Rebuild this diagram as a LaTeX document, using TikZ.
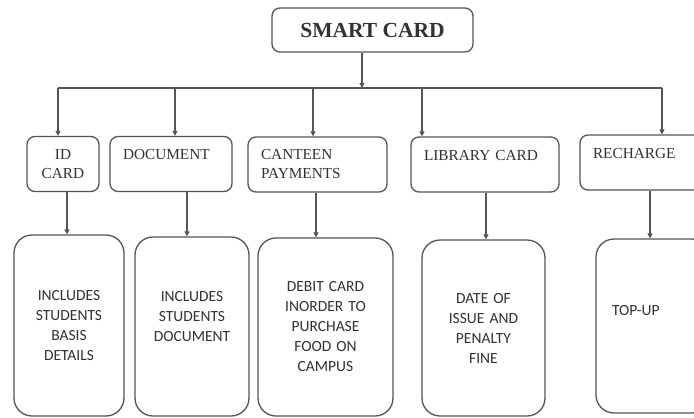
\documentclass[tikz,border=0pt]{standalone}
\usepackage{fontspec}
\setmainfont{Liberation Serif}
\newfontfamily\calib{Carlito}
\usetikzlibrary{arrows.meta}
\definecolor{ln}{RGB}{85,85,85}
\definecolor{tx}{RGB}{50,50,50}
\begin{document}
\begin{tikzpicture}[x=1pt,y=-1pt,
  topbox/.style={draw=ln, line width=1.3pt, rounded corners=8pt, text=tx,
    font=\fontsize{21.5}{25}\selectfont\bfseries, minimum width=201pt, minimum height=44pt, inner sep=0pt},
  lvone/.style={draw=ln, line width=1.3pt, rounded corners=8pt, text=tx,
    font=\fontsize{15.3}{19}\selectfont, align=left, inner xsep=13pt, inner ysep=0pt, minimum height=55pt},
  lvtwo/.style={draw=ln, line width=1.3pt, rounded corners=18pt, text=tx,
    font=\calib\fontsize{15.5}{20}\selectfont, align=center, inner sep=0pt},
  arr/.style={draw=ln, line width=1.3pt, -{Triangle[length=5pt,width=5pt]}},
  ln/.style={draw=ln, line width=1.3pt}]
\clip (0,0) rectangle (694,418);
\fill[white] (0,0) rectangle (694,418);
\useasboundingbox (0,0) rectangle (694,418);

\node[topbox] (smart) at (372.5,30) {SMART CARD};

\node[lvone, text width=46pt, align=center] (id) at (63,164) {ID\\CARD};
\node[lvone, text width=96pt] (doc) at (171,164) {DOCUMENT\\ \mbox{}};
\node[lvone, text width=113pt] (cant) at (317.5,164.5) {CANTEEN\\PAYMENTS};
\node[lvone, text width=122pt] (lib) at (485,164.5) {LIBRARY CARD\\ \mbox{}};
\node[lvone, text width=104pt] (rech) at (645,162.5) {RECHARGE\\ \mbox{}};

\node[lvtwo, minimum width=110pt, minimum height=181pt, text width=100pt] (idd) at (69,325.5) {INCLUDES\\STUDENTS\\BASIS\\DETAILS};
\node[lvtwo, minimum width=114pt, minimum height=179pt, text width=104pt] (docd) at (192,326.5) {INCLUDES\\STUDENTS\\DOCUMENT\\ \mbox{}};
\node[lvtwo, minimum width=135pt, minimum height=178pt, text width=125pt] (cantd) at (325.5,327) {DEBIT CARD\\INORDER TO\\PURCHASE\\FOOD ON\\CAMPUS};
\node[lvtwo, minimum width=123pt, minimum height=176pt, text width=113pt] (libd) at (483.5,328) {DATE OF\\ISSUE AND\\PENALTY\\FINE};
\node[lvtwo, minimum width=114pt, minimum height=174pt, text width=82pt, inner xsep=16pt, align=left] (rechd) at (653,326) {TOP-UP\\[12pt]\mbox{}};

\coordinate (a1) at (58,88);
\coordinate (a2) at (175,88);
\coordinate (a3) at (313,88);
\coordinate (a4) at (422,88);
\coordinate (a5) at (662,88);
\coordinate (tj) at (362,88);

\draw[ln] (a1) -- (a5);
\draw[arr] (smart.south -| tj) -- (tj);
\draw[arr] (a1) -- (a1 |- id.north);
\draw[arr] (a2) -- (a2 |- doc.north);
\draw[arr] (a3) -- (a3 |- cant.north);
\draw[arr] (a4) -- (a4 |- lib.north);
\draw[arr] (a5) -- (a5 |- rech.north);

\coordinate (b1) at (67,0);
\coordinate (b2) at (187,0);
\coordinate (b3) at (316,0);
\coordinate (b4) at (486,0);
\coordinate (b5) at (650,0);
\draw[arr] (id.south -| b1) -- (idd.north -| b1);
\draw[arr] (doc.south -| b2) -- (docd.north -| b2);
\draw[arr] (cant.south -| b3) -- (cantd.north -| b3);
\draw[arr] (lib.south -| b4) -- (libd.north -| b4);
\draw[arr] (rech.south -| b5) -- (rechd.north -| b5);
\end{tikzpicture}
\end{document}
